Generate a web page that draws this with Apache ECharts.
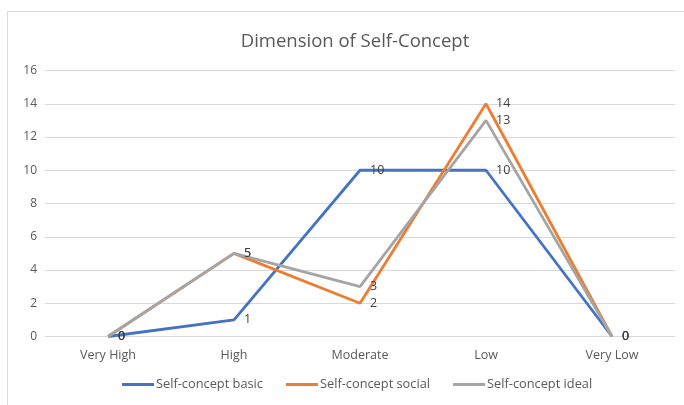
<!DOCTYPE html>
<html><head><meta charset="utf-8">
<script src="https://cdn.jsdelivr.net/npm/echarts@6/dist/echarts.min.js"></script>
<style>html,body{margin:0;padding:0;background:#fff}#c{width:684px;height:405px}</style>
</head><body><div id="c"></div>
<script>
var categories = ['Very High', 'High', 'Moderate', 'Low', 'Very Low'];
var basic = [0, 1, 10, 10, 0];
var social = [0, 5, 2, 14, 0];
var ideal = [0, 5, 3, 13, 0];
var yTicks = [0, 2, 4, 6, 8, 10, 12, 14, 16];
var seriesNames = ['Self-concept basic', 'Self-concept social', 'Self-concept ideal'];
var colors = ['#4472C4', '#ED7D31', '#A5A5A5'];
var titleText = 'Dimension of Self-Concept';

var font = 'Open Sans';
var chart = echarts.init(document.getElementById('c'), null, {renderer: 'canvas'});
function mk(name, data, color, z) {
  return {
    name: name, type: 'line', data: data, z: z,
    symbol: 'circle', symbolSize: 0, showSymbol: true,
    lineStyle: {color: color, width: 2.8},
    itemStyle: {color: color},
    label: {show: true, position: 'right', distance: 10, color: '#404040', fontFamily: font, fontSize: 12.5},
    labelLayout: {hideOverlap: false},
    emphasis: {disabled: true},
    animation: false
  };
}
chart.setOption({
  animation: false,
  color: colors,
  graphic: [{type: 'rect', shape: {x: 7.5, y: 11.5, width: 700, height: 420}, style: {fill: 'none', stroke: '#D9D9D9', lineWidth: 1}, silent: true, z: -1}],
  title: {text: titleText, left: 350, textAlign: 'center', top: 27,
    textStyle: {fontFamily: font, fontSize: 18.5, fontWeight: 'normal', color: '#595959'}},
  grid: {left: 45, right: 9, top: 70.5, bottom: 68.5, containLabel: false},
  legend: {bottom: 9, left: 117, itemWidth: 32, itemHeight: 3, itemGap: 23, icon: 'rect',
    textStyle: {fontFamily: font, fontSize: 12.8, color: '#595959', padding: [0, 0, 0, -3]},
    data: seriesNames},
  xAxis: {type: 'category', data: categories, boundaryGap: true,
    axisLine: {lineStyle: {color: '#D9D9D9', width: 1}}, axisTick: {show: false},
    axisLabel: {color: '#595959', fontFamily: font, fontSize: 12.5, margin: 12}},
  yAxis: {type: 'value', min: 0, max: 16, interval: 2,
    axisLine: {show: false}, axisTick: {show: false},
    axisLabel: {color: '#595959', fontFamily: font, fontSize: 12, margin: 8,
      formatter: function (v) { return yTicks.indexOf(v) >= 0 ? String(v) : ''; }},
    splitLine: {lineStyle: {color: '#D9D9D9', width: 1}}},
  series: [mk(seriesNames[0], basic, colors[0], 3), mk(seriesNames[1], social, colors[1], 4), mk(seriesNames[2], ideal, colors[2], 5)]
});
</script></body></html>
